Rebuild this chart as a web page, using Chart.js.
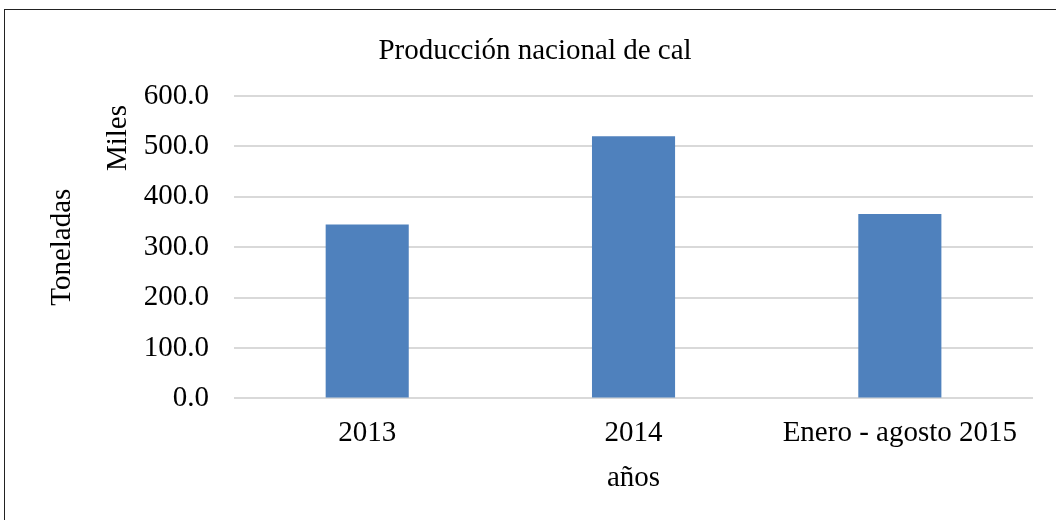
<!DOCTYPE html>
<html>
<head>
<meta charset="utf-8">
<script src="https://cdn.jsdelivr.net/npm/chart.js@4"></script>
<style>
  html, body { margin: 0; padding: 0; background: #fff; }
  #wrap { position: relative; width: 1056px; height: 520px; }
  #frame { position: absolute; left: 4px; top: 9px; right: 0; bottom: 0;
           border-left: 1px solid #222; border-top: 1px solid #222; pointer-events: none; }
</style>
</head>
<body>
<div id="wrap">
  <canvas id="chart" width="1056" height="520"></canvas>
  <div id="frame"></div>
</div>
<script>
const categories = ["2013", "2014", "Enero - agosto 2015"];
const production = [345, 520, 366];
const yTicks = [0, 100, 200, 300, 400, 500, 600];

const serif = "'Liberation Serif', 'Times New Roman', serif";

// title and the "Miles" unit label are drawn by hand so they sit where the original has them
const extraText = {
    id: "extraText",
    afterDraw(chart) {
        const ctx = chart.ctx;
        ctx.save();
        ctx.fillStyle = "#000";
        ctx.font = "29px " + serif;
        ctx.textAlign = "center";
        ctx.textBaseline = "middle";
        ctx.fillText("Producción nacional de cal", 535, 51);
        ctx.translate(118, 138);
        ctx.rotate(-Math.PI / 2);
        ctx.fillText("Miles", 0, 0);
        ctx.restore();
    }
};

new Chart(document.getElementById("chart"), {
    type: "bar",
    data: {
        labels: categories,
        datasets: [{
            label: "Producción",
            data: production,
            backgroundColor: "#4f81bd",
            barPercentage: 0.312,
            categoryPercentage: 1
        }]
    },
    options: {
        responsive: false,
        animation: false,
        layout: { padding: { top: 96, right: 23, bottom: 0, left: 0 } },
        plugins: {
            legend: { display: false },
            title: { display: false },
            tooltip: { enabled: false }
        },
        scales: {
            x: {
                grid: { display: false, drawTicks: false },
                border: { display: false },
                ticks: { color: "#000", font: { family: serif, size: 29 }, padding: 18 },
                title: {
                    display: true, text: "años", color: "#000",
                    font: { family: serif, size: 29 },
                    padding: { top: -8, bottom: 24 }
                }
            },
            y: {
                min: 0,
                max: 600,
                afterBuildTicks(scale) {
                    scale.ticks = yTicks.map(v => ({ value: v }));
                },
                grid: { color: "#d9d9d9", lineWidth: 2, drawTicks: false },
                border: { display: false },
                ticks: {
                    color: "#000",
                    font: { family: serif, size: 29 },
                    padding: 25,
                    callback: v => Number(v).toFixed(1)
                },
                title: {
                    display: true, text: "Toneladas", color: "#000",
                    font: { family: serif, size: 29 },
                    padding: { top: 45, bottom: 39 }
                }
            }
        }
    },
    plugins: [extraText]
});
</script>
</body>
</html>
